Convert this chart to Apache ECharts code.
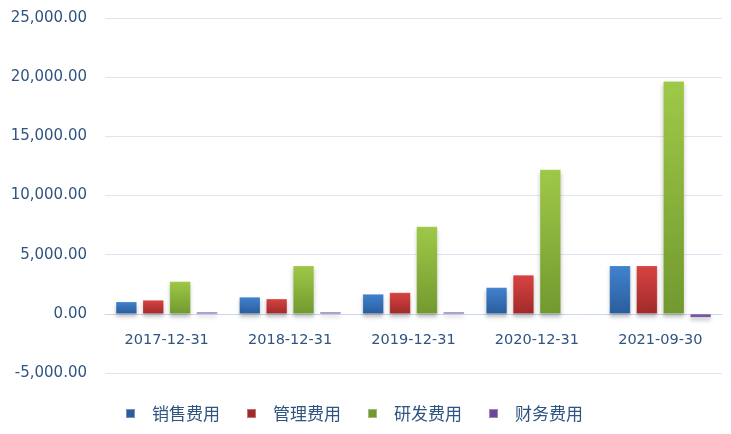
<!DOCTYPE html>
<html>
<head>
<meta charset="utf-8">
<script src="https://cdn.jsdelivr.net/npm/echarts@6/dist/echarts.min.js"></script>
<style>html,body{margin:0;padding:0;background:#fff;}#c{width:731px;height:434px;}</style>
</head>
<body>
<div id="c"></div>
<script>
const categories = ['2017-12-31', '2018-12-31', '2019-12-31', '2020-12-31', '2021-09-30'];
const seriesNames = ['销售费用', '管理费用', '研发费用', '财务费用'];
const sales = [1020, 1420, 1670, 2230, 4070];
const admin = [1160, 1270, 1800, 3280, 4070];
const rnd = [2740, 4070, 7370, 12200, 19660];
const finance = [150, 150, 150, -20, -300];
const yTicks = { min: -5000, max: 25000, interval: 5000 };

const colors = [
  ['#4283d0', '#2a5d9c'],
  ['#d84442', '#a02a2a'],
  ['#9fc948', '#72992f'],
  ['#8a62b3', '#6c4896']
];
const dataSets = [sales, admin, rnd, finance];

function grad(c) {
  return new echarts.graphic.LinearGradient(0, 0, 0, 1, [
    { offset: 0, color: c[0] }, { offset: 1, color: c[1] }
  ]);
}

const chart = echarts.init(document.getElementById('c'));
chart.setOption({
  animation: false,
  grid: { left: 105, right: 9, top: 18, bottom: 61 },
  legend: {
    left: 120, top: 400,
    icon: 'rect', itemWidth: 9, itemHeight: 9, itemGap: 26,
    textStyle: { fontFamily: 'Noto Sans CJK SC', fontSize: 17, color: '#2f5480', padding: [0, 0, 0, 12] },
    data: seriesNames.map((n, i) => ({ name: n, itemStyle: { color: colors[i][1] } }))
  },
  xAxis: {
    type: 'category',
    data: categories,
    offset: -59,
    axisLine: { onZero: false, lineStyle: { color: '#c6d9f0', width: 1 } },
    axisTick: { show: false },
    axisLabel: { margin: 19, fontFamily: 'DejaVu Sans', fontSize: 14.5, color: '#2f5480' }
  },
  yAxis: {
    type: 'value',
    min: yTicks.min, max: yTicks.max, interval: yTicks.interval,
    axisLine: { show: false },
    axisTick: { show: false },
    splitLine: { lineStyle: { color: '#dce6f2', width: 1 } },
    axisLabel: {
      margin: 18, fontFamily: 'DejaVu Sans', fontSize: 15, color: '#2f5480',
      formatter: v => v.toLocaleString('en-US', { minimumFractionDigits: 2, maximumFractionDigits: 2 })
    }
  },
  series: seriesNames.map((n, i) => ({
    name: n,
    type: 'bar',
    data: dataSets[i],
    barWidth: 21,
    barGap: '28%',
    itemStyle: {
      color: grad(colors[i]),
      borderColor: 'rgba(255,255,255,0.35)', borderWidth: 0.5,
      shadowColor: 'rgba(0,0,0,0.25)', shadowBlur: 4, shadowOffsetY: 3
    }
  }))
});
</script>
</body>
</html>
